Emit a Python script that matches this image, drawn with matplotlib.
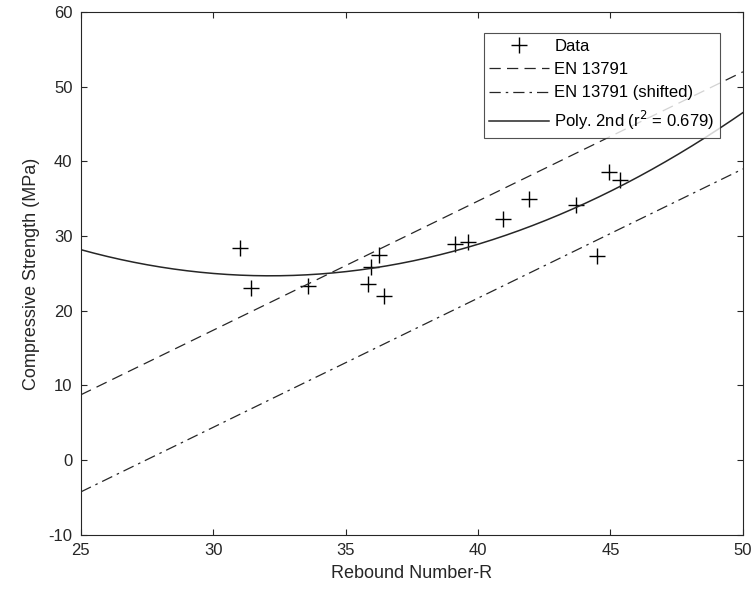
import numpy as np
import matplotlib
matplotlib.use("Agg")
import matplotlib.pyplot as plt

plt.rcParams["font.family"] = ["Liberation Sans", "DejaVu Sans"]
plt.rcParams["axes.unicode_minus"] = False

# Rebound hammer readings vs core compressive strength
rebound = [31.00, 31.41, 33.58, 35.85, 35.95, 36.27, 36.44, 39.12,
           39.63, 40.95, 41.93, 43.69, 44.48, 44.94, 45.36]
strength = [28.37, 23.02, 23.33, 23.59, 25.91, 27.47, 21.99, 28.91,
            29.26, 32.29, 34.97, 34.17, 27.38, 38.54, 37.51]

# EN 13791 base curve f = 1.73 R - 34.5, and the shifted version
en_slope = 1.73
en_intercept = -34.5
en_shift = -13.0
r2_label = 0.679

x = np.array(rebound)
y = np.array(strength)
coef = np.polyfit(x, y, 2)

r = np.linspace(25, 50, 300)
en_line = en_slope * r + en_intercept
en_shifted = en_line + en_shift
poly_line = np.polyval(coef, r)

fig = plt.figure(figsize=(7.55, 6.03), dpi=100)
ax = fig.add_axes([0.107, 0.113, 0.877, 0.867])

line_col = "#262626"
ax.plot(x, y, "+", color="k", markersize=12, markeredgewidth=1.0, label="Data")
ax.plot(r, en_line, color=line_col, lw=0.9, dashes=(9, 5), label="EN 13791")
ax.plot(r, en_shifted, color=line_col, lw=0.9, dashes=(9, 4, 2, 4),
        label="EN 13791 (shifted)")
ax.plot(r, poly_line, color=line_col, lw=1.1,
        label=f"Poly. 2nd (r$^2$ = {r2_label:.3f})")

ax.set_xlim(25, 50)
ax.set_ylim(-10, 60)
ax.set_xticks(np.arange(25, 51, 5))
ax.set_yticks(np.arange(-10, 61, 10))
ax.tick_params(direction="in", length=4, width=0.8, top=True, right=True,
               labelsize=12, colors="#262626", pad=6)
for s in ax.spines.values():
    s.set_color("#262626")
    s.set_linewidth(0.8)

ax.set_xlabel("Rebound Number-R", fontsize=13, color="#262626", labelpad=5)
ax.set_ylabel("Compressive Strength (MPa)", fontsize=13, color="#262626", labelpad=6)

leg = ax.legend(loc="upper right", bbox_to_anchor=(0.966, 0.96), fontsize=12,
                frameon=True, fancybox=False, handlelength=3.6,
                borderpad=0.35, labelspacing=0.5, handletextpad=0.3,
                borderaxespad=0)
leg.get_frame().set_edgecolor("#262626")
leg.get_frame().set_linewidth(0.8)

fig.savefig("out.png", dpi=100)
